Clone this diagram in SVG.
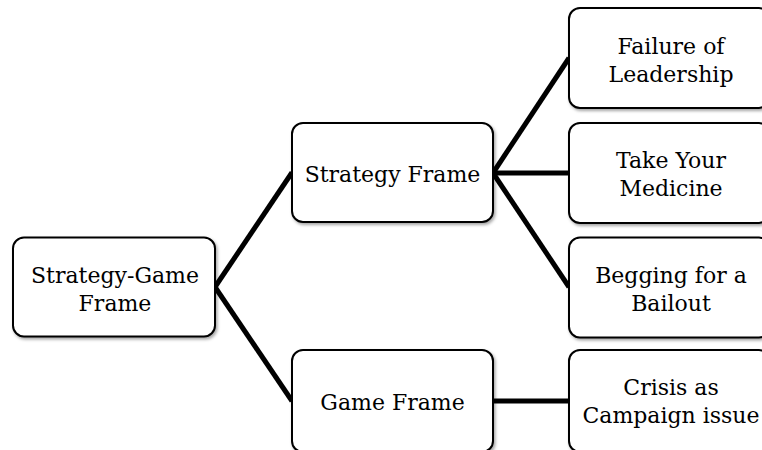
<svg xmlns="http://www.w3.org/2000/svg" width="762" height="450" viewBox="0 0 762 450">
  <style>
    .box { fill: #ffffff; stroke: #000000; stroke-width: 2; filter: url(#shadow); }
    .lbl { font-family: "DejaVu Serif", "Liberation Serif", serif; font-size: 22px; fill: #000000; text-anchor: middle; }
    .conn { stroke: #000000; stroke-width: 5; fill: none; stroke-linecap: butt; }
  </style>
  <defs>
    <filter id="shadow" x="-10%" y="-10%" width="125%" height="130%">
      <feDropShadow dx="1.5" dy="2" stdDeviation="1.5" flood-color="#000000" flood-opacity="0.35"/>
    </filter>
  </defs>
  <rect width="762" height="450" fill="#ffffff"/>
  <g id="connectors">
    <line class="conn" x1="215" y1="287" x2="292" y2="172.5"/>
    <line class="conn" x1="215" y1="287" x2="292" y2="401"/>
    <line class="conn" x1="493" y1="173" x2="569" y2="58"/>
    <line class="conn" x1="493" y1="173" x2="569" y2="173"/>
    <line class="conn" x1="493" y1="173" x2="569" y2="287"/>
    <line class="conn" x1="493" y1="401" x2="569" y2="401"/>
  </g>
  <g id="strategy-game-frame">
    <rect class="box" x="13" y="237.5" width="202" height="99" rx="11"/>
    <text class="lbl" x="115" y="283">Strategy-Game</text>
    <text class="lbl" x="115" y="311">Frame</text>
  </g>
  <g id="strategy-frame">
    <rect class="box" x="292" y="123" width="201" height="99" rx="11"/>
    <text class="lbl" x="392.5" y="182">Strategy Frame</text>
  </g>
  <g id="game-frame">
    <rect class="box" x="292" y="350" width="201" height="102" rx="11"/>
    <text class="lbl" x="392.5" y="410">Game Frame</text>
  </g>
  <g id="failure-of-leadership">
    <rect class="box" x="569" y="8" width="201" height="100" rx="11"/>
    <text class="lbl" x="671" y="54">Failure of</text>
    <text class="lbl" x="671" y="82">Leadership</text>
  </g>
  <g id="take-your-medicine">
    <rect class="box" x="569" y="123" width="201" height="100" rx="11"/>
    <text class="lbl" x="671" y="168">Take Your</text>
    <text class="lbl" x="671" y="196">Medicine</text>
  </g>
  <g id="begging-for-a-bailout">
    <rect class="box" x="569" y="237.5" width="201" height="100" rx="11"/>
    <text class="lbl" x="671" y="283">Begging for a</text>
    <text class="lbl" x="671" y="311">Bailout</text>
  </g>
  <g id="crisis-as-campaign-issue">
    <rect class="box" x="569" y="350" width="201" height="102" rx="11"/>
    <text class="lbl" x="671" y="395">Crisis as</text>
    <text class="lbl" x="671" y="423">Campaign issue</text>
  </g>
</svg>
